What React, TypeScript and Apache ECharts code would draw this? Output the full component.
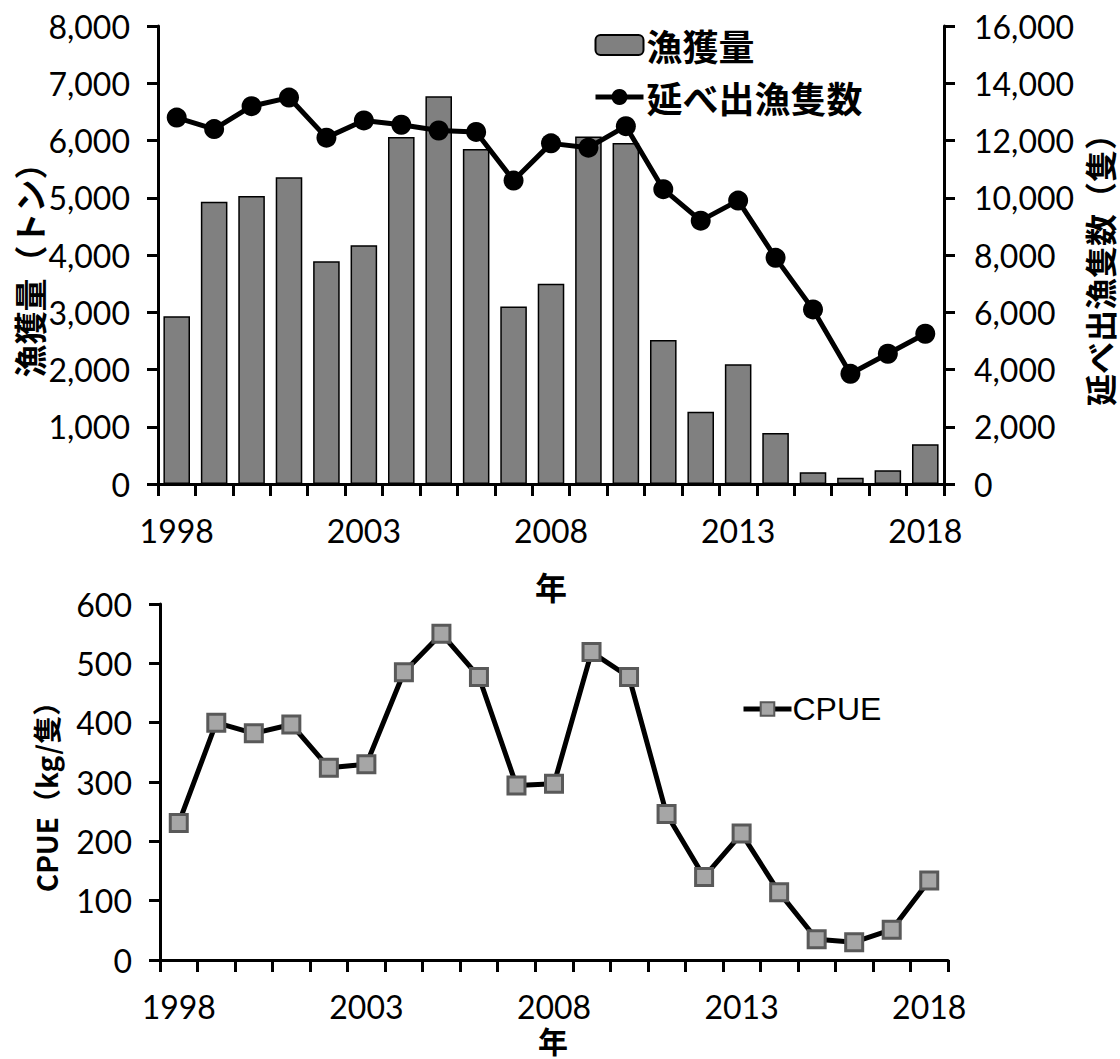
import React, { useEffect, useRef } from "react";
import * as echarts from "echarts";

const years = ["1998","1999","2000","2001","2002","2003","2004","2005","2006","2007","2008","2009","2010","2011","2012","2013","2014","2015","2016","2017","2018"];
const catch_t = [2930, 4930, 5030, 5360, 3890, 4170, 6060, 6775, 5850, 3100, 3500, 6070, 5955, 2515, 1260, 2090, 890, 205, 110, 240, 695];
const trips = [12800, 12400, 13200, 13500, 12100, 12700, 12550, 12350, 12300, 10600, 11900, 11750, 12500, 10300, 9200, 9900, 7900, 6100, 3850, 4550, 5250];
const cpue = [231, 400, 382, 397, 324, 330, 485, 550, 477, 294, 297, 519, 477, 246, 140, 213, 114, 35, 30, 51, 134];

const NUM_FONT = "Lato, 'Noto Sans', sans-serif";
const CJK_FONT = "'Noto Sans CJK JP', 'Noto Sans', sans-serif";

const fmt = (v: number) => v.toLocaleString("en-US");

export default function App() {
  const ref = useRef<HTMLDivElement>(null);
  useEffect(() => {
    document.body.style.margin = "0";
    const chart = echarts.init(ref.current!, null, { renderer: "svg" });
    const axisLine = { show: true, lineStyle: { color: "#000", width: 3 } };
    const axisTickY = { show: true, inside: false, length: 11, lineStyle: { color: "#000", width: 3 } };
    const xAxisCommon = {
      type: "category",
      data: years,
      boundaryGap: true,
      axisLine,
      axisTick: { show: true, interval: 0, alignWithLabel: false, length: 12, lineStyle: { color: "#000", width: 3 } },
      axisLabel: { interval: 4, fontSize: 32, fontFamily: NUM_FONT, color: "#000", margin: 30 },
      splitLine: { show: false },
    };
    chart.setOption({
      animation: false,
      backgroundColor: "#fff",
      grid: [
        { left: 158, width: 786, top: 26, height: 458 },
        { left: 160, width: 788, top: 604, height: 356 },
      ],
      legend: [
        {
          data: ["漁獲量", "延べ出漁隻数"],
          orient: "vertical",
          left: 588,
          top: 22,
          itemWidth: 48,
          itemHeight: 20,
          itemGap: 16,
          lineStyle: { width: 5, color: "#000" },
          textStyle: { fontSize: 36, fontWeight: "bold", fontFamily: CJK_FONT, color: "#000", padding: [0, 0, 0, -2] },
        },
        {
          data: ["CPUE"],
          left: 736,
          top: 688,
          itemWidth: 48,
          itemHeight: 17,
          lineStyle: { width: 5, color: "#000" },
          textStyle: { fontSize: 32, fontFamily: "'Liberation Sans', Arial, sans-serif", color: "#000", padding: [0, 0, 0, -4] },
        },
      ],
      xAxis: [
        { ...xAxisCommon, gridIndex: 0 },
        { ...xAxisCommon, gridIndex: 1, axisLabel: { ...xAxisCommon.axisLabel, margin: 30 } },
      ],
      yAxis: [
        {
          type: "value", gridIndex: 0, min: 0, max: 8000, interval: 1000,
          axisLine, axisTick: axisTickY, splitLine: { show: false },
          axisLabel: { formatter: fmt, fontSize: 32, fontFamily: NUM_FONT, color: "#000", margin: 28 },
        },
        {
          type: "value", gridIndex: 0, position: "right", min: 0, max: 16000, interval: 2000,
          axisLine, axisTick: axisTickY, splitLine: { show: false },
          axisLabel: { formatter: fmt, fontSize: 32, fontFamily: NUM_FONT, color: "#000", margin: 30 },
        },
        {
          type: "value", gridIndex: 1, min: 0, max: 600, interval: 100,
          axisLine, axisTick: axisTickY, splitLine: { show: false },
          axisLabel: { fontSize: 32, fontFamily: NUM_FONT, color: "#000", margin: 28 },
        },
      ],
      series: [
        {
          name: "漁獲量", type: "bar", xAxisIndex: 0, yAxisIndex: 0, data: catch_t,
          barWidth: "71%",
          itemStyle: { color: "#808080", borderColor: "#000", borderWidth: 1.5 },
        },
        {
          name: "延べ出漁隻数", type: "line", xAxisIndex: 0, yAxisIndex: 1, data: trips,
          symbol: "circle", symbolSize: 20,
          lineStyle: { color: "#000", width: 5 },
          itemStyle: { color: "#000" },
        },
        {
          name: "CPUE", type: "line", xAxisIndex: 1, yAxisIndex: 2, data: cpue,
          symbol: "rect", symbolSize: 17,
          lineStyle: { color: "#000", width: 5 },
          itemStyle: { color: "#a6a6a6", borderColor: "#595959", borderWidth: 3 },
        },
      ],
      graphic: [
        {
          type: "text", x: 29, y: 262, rotation: Math.PI / 2,
          style: { text: "漁獲量（トン）", fontSize: 33, fontWeight: "bold", fontFamily: CJK_FONT, fill: "#000", align: "center", verticalAlign: "middle" },
        },
        {
          type: "text", x: 1099, y: 262, rotation: Math.PI / 2,
          style: { text: "延べ出漁隻数（隻）", fontSize: 32, fontWeight: "bold", fontFamily: CJK_FONT, fill: "#000", align: "center", verticalAlign: "middle" },
        },
        {
          type: "text", x: 551, y: 586,
          style: { text: "年", fontSize: 32, fontWeight: "bold", fontFamily: CJK_FONT, fill: "#000", align: "center", verticalAlign: "middle" },
        },
        {
          type: "text", x: 46, y: 790, rotation: Math.PI / 2,
          style: { text: "CPUE（kg/隻）", fontSize: 28, fontWeight: "bold", fontFamily: CJK_FONT, fill: "#000", align: "center", verticalAlign: "middle" },
        },
        {
          type: "text", x: 553, y: 1040,
          style: { text: "年", fontSize: 30, fontWeight: "bold", fontFamily: CJK_FONT, fill: "#000", align: "center", verticalAlign: "middle" },
        },
      ],
    });
    return () => chart.dispose();
  }, []);
  return <div ref={ref} style={{ width: 1120, height: 1059, position: "absolute", left: 0, top: 0 }} />;
}
